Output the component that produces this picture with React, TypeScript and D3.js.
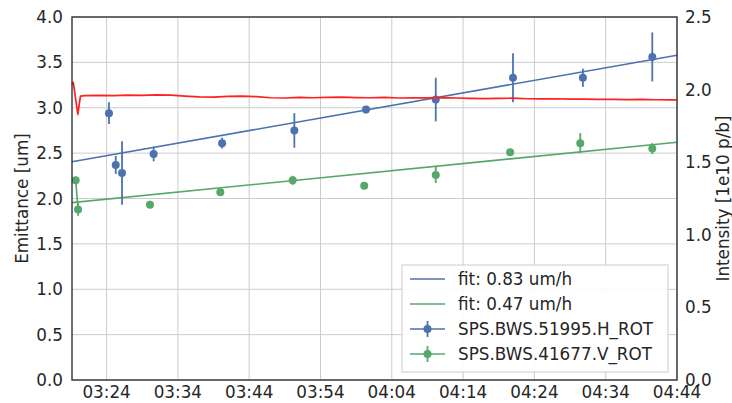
import React from "react";
import * as d3 from "d3";

// Wire-scanner emittance measurements (um) with uncertainties
const hTimes = ["03:24:20", "03:25:17", "03:26:10", "03:30:36", "03:40:12", "03:50:20", "04:00:23", "04:10:10", "04:21:00", "04:30:48", "04:40:32"];
const hValues = [2.94, 2.37, 2.28, 2.49, 2.61, 2.75, 2.98, 3.09, 3.33, 3.33, 3.56];
const hErrors = [0.12, 0.10, 0.35, 0.08, 0.06, 0.19, 0.04, 0.24, 0.27, 0.10, 0.27];

const vTimes = ["03:19:40", "03:20:00", "03:30:05", "03:39:57", "03:50:06", "04:00:08", "04:10:10", "04:20:36", "04:30:26", "04:40:32"];
const vValues = [2.20, 1.88, 1.93, 2.07, 2.20, 2.14, 2.26, 2.51, 2.61, 2.55];
const vErrors = [0.03, 0.07, 0.01, 0.02, 0.05, 0.01, 0.09, 0.01, 0.11, 0.06];

// Linear fits: growth rate (um/h) and value at the start of the window
const fitSlopes = [0.83, 0.47];
const fitStarts = [2.405, 1.955];
const fitLabels = ["fit: 0.83 um/h", "fit: 0.47 um/h"];
const seriesLabels = ["SPS.BWS.51995.H_ROT", "SPS.BWS.41677.V_ROT"];

// Beam intensity (1e10 p/b)
const iTimes = [
  "03:19:09", "03:19:20", "03:19:58", "03:20:20", "03:21:00", "03:23:00", "03:25:00", "03:27:00", "03:29:00",
  "03:31:00", "03:33:00", "03:35:00", "03:37:00", "03:39:00", "03:41:00", "03:43:00", "03:45:00", "03:47:00",
  "03:49:00", "03:51:00", "03:53:00", "03:55:00", "03:57:00", "03:59:00", "04:01:00", "04:03:00", "04:05:00",
  "04:07:00", "04:09:00", "04:11:00", "04:13:00", "04:15:00", "04:17:00", "04:19:00", "04:21:00", "04:23:00",
  "04:25:00", "04:27:00", "04:29:00", "04:31:00", "04:33:00", "04:35:00", "04:37:00", "04:39:00", "04:41:00",
  "04:43:00", "04:44:00",
];
const iValues = [
  2.03, 2.05, 1.83, 1.955, 1.958, 1.960, 1.958, 1.962, 1.960,
  1.964, 1.962, 1.955, 1.950, 1.948, 1.953, 1.955, 1.951, 1.944,
  1.942, 1.946, 1.944, 1.946, 1.948, 1.945, 1.944, 1.946, 1.942,
  1.944, 1.943, 1.945, 1.942, 1.940, 1.938, 1.939, 1.941, 1.937,
  1.936, 1.937, 1.934, 1.935, 1.933, 1.932, 1.931, 1.932, 1.930,
  1.929, 1.929,
];

const xTickLabels = ["03:24", "03:34", "03:44", "03:54", "04:04", "04:14", "04:24", "04:34", "04:44"];
const leftTicks = [0, 0.5, 1.0, 1.5, 2.0, 2.5, 3.0, 3.5, 4.0];
const rightTicks = [0, 0.5, 1.0, 1.5, 2.0, 2.5];
const windowStart = "03:19:09";
const windowEnd = "04:44:00";
const pairGapSec = 30; // readings closer than this are joined

const W = 732;
const H = 403;
const M = { left: 72, right: 55, top: 17, bottom: 23 };
const BLUE = "#4c72b0";
const GREEN = "#55a868";
const RED = "#ff2020";
const TEXT = "#262626";
const FONT = "DejaVu Sans";
const FS = 16.8;

const parseT = d3.timeParse("%H:%M:%S");
const parseHM = d3.timeParse("%H:%M");

export default function App() {
  const x = d3
    .scaleTime()
    .domain([parseT(windowStart)!, parseT(windowEnd)!])
    .range([M.left, W - M.right]);
  const yL = d3.scaleLinear().domain([0, 4]).range([H - M.bottom, M.top]);
  const yR = d3.scaleLinear().domain([0, 2.5]).range([H - M.bottom, M.top]);

  const series = [
    { t: hTimes.map((s) => parseT(s)!), v: hValues, e: hErrors, color: BLUE },
    { t: vTimes.map((s) => parseT(s)!), v: vValues, e: vErrors, color: GREEN },
  ];

  const t0 = parseT(windowStart)!;
  const t1 = parseT(windowEnd)!;
  const fits = fitSlopes.map((s, i) => {
    const hours = (t1.getTime() - t0.getTime()) / 3.6e6;
    return [
      [x(t0), yL(fitStarts[i])],
      [x(t1), yL(fitStarts[i] + s * hours)],
    ];
  });

  const intensityLine = d3
    .line<number>()
    .x((_, i) => x(parseT(iTimes[i])!))
    .y((d) => yR(d))(iValues);

  const xTicks = xTickLabels.map((s) => parseHM(s)!);
  const left = M.left;
  const right = W - M.right;
  const top = M.top;
  const bottom = H - M.bottom;

  const legX = 402;
  const legY = 265;
  const legW = 266;
  const legH = 107;
  const rowY = [279, 304, 329, 354];

  return (
    <svg width={W} height={H} style={{ position: "absolute", left: 0, top: 0, background: "#fff" }} fontFamily={FONT}>
      <rect x={0} y={0} width={W} height={H} fill="#fff" />
      {/* grid */}
      {leftTicks.map((v) => (
        <line key={"gy" + v} x1={left} x2={right} y1={yL(v)} y2={yL(v)} stroke="#cccccc" strokeWidth={1} />
      ))}
      {xTicks.map((t, i) => (
        <line key={"gx" + i} x1={x(t)} x2={x(t)} y1={top} y2={bottom} stroke="#cccccc" strokeWidth={1} />
      ))}

      {/* fit lines */}
      {fits.map((f, i) => (
        <line key={"fit" + i} x1={f[0][0]} y1={f[0][1]} x2={f[1][0]} y2={f[1][1]} stroke={series[i].color} strokeWidth={1.6} />
      ))}

      {/* measurements with error bars */}
      {series.map((s, si) => (
        <g key={"s" + si}>
          {s.t.map((t, i) =>
            i > 0 && (t.getTime() - s.t[i - 1].getTime()) / 1000 < pairGapSec ? (
              <line
                key={"c" + i}
                x1={x(s.t[i - 1])}
                y1={yL(s.v[i - 1])}
                x2={x(t)}
                y2={yL(s.v[i])}
                stroke={s.color}
                strokeWidth={1.6}
              />
            ) : null
          )}
          {s.t.map((t, i) => (
            <g key={"p" + i}>
              <line
                x1={x(t)}
                x2={x(t)}
                y1={yL(s.v[i] - s.e[i])}
                y2={yL(s.v[i] + s.e[i])}
                stroke={s.color}
                strokeWidth={1.8}
              />
              <circle cx={x(t)} cy={yL(s.v[i])} r={4} fill={s.color} />
            </g>
          ))}
        </g>
      ))}

      {/* intensity */}
      <path d={intensityLine ?? ""} fill="none" stroke={RED} strokeWidth={1.7} strokeLinejoin="round" />

      {/* frame */}
      <rect x={left} y={top} width={right - left} height={bottom - top} fill="none" stroke="#333" strokeWidth={1.4} />

      {/* tick labels */}
      {leftTicks.map((v) => (
        <text key={"ly" + v} x={left - 9} y={yL(v)} textAnchor="end" dominantBaseline="central" fontSize={FS} fill={TEXT}>
          {d3.format(".1f")(v)}
        </text>
      ))}
      {rightTicks.map((v) => (
        <text key={"ry" + v} x={right + 8} y={yR(v)} textAnchor="start" dominantBaseline="central" fontSize={FS} fill={TEXT}>
          {d3.format(".1f")(v)}
        </text>
      ))}
      {xTicks.map((t, i) => (
        <text key={"xl" + i} x={x(t)} y={bottom + 18} textAnchor="middle" fontSize={FS} fill={TEXT}>
          {d3.timeFormat("%H:%M")(t)}
        </text>
      ))}

      {/* axis titles */}
      <text
        transform={`translate(22,${(top + bottom) / 2}) rotate(-90)`}
        textAnchor="middle"
        dominantBaseline="central"
        fontSize={FS}
        fill={TEXT}
      >
        Emittance [um]
      </text>
      <text
        transform={`translate(723,${(top + bottom) / 2}) rotate(-90)`}
        textAnchor="middle"
        dominantBaseline="central"
        fontSize={FS}
        fill={TEXT}
      >
        Intensity [1e10 p/b]
      </text>

      {/* legend */}
      <rect x={legX} y={legY} width={legW} height={legH} fill="#fff" fillOpacity={0.9} stroke="#cccccc" strokeWidth={1} />
      {[0, 1].map((i) => (
        <g key={"lf" + i}>
          <line x1={410} x2={445} y1={rowY[i]} y2={rowY[i]} stroke={series[i].color} strokeWidth={1.6} />
          <text x={458} y={rowY[i]} dominantBaseline="central" fontSize={FS} fill={TEXT}>
            {fitLabels[i]}
          </text>
        </g>
      ))}
      {[0, 1].map((i) => (
        <g key={"ls" + i}>
          <line x1={410} x2={445} y1={rowY[i + 2]} y2={rowY[i + 2]} stroke={series[i].color} strokeWidth={1.6} />
          <line x1={427.5} x2={427.5} y1={rowY[i + 2] - 8} y2={rowY[i + 2] + 8} stroke={series[i].color} strokeWidth={1.8} />
          <circle cx={427.5} cy={rowY[i + 2]} r={4} fill={series[i].color} />
          <text x={458} y={rowY[i + 2]} dominantBaseline="central" fontSize={FS} fill={TEXT}>
            {seriesLabels[i]}
          </text>
        </g>
      ))}
    </svg>
  );
}
